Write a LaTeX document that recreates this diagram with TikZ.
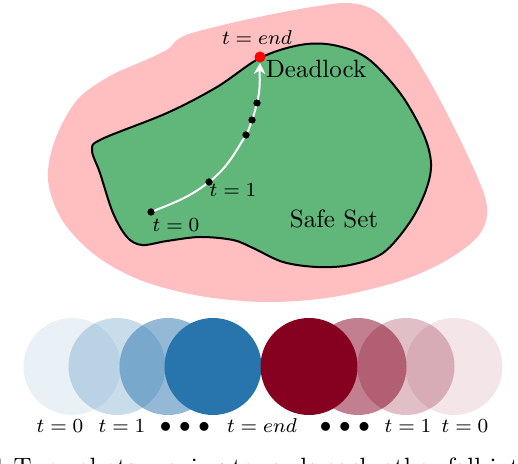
\documentclass[tikz,border=0pt]{standalone}
\usetikzlibrary{arrows.meta}
\definecolor{pinkc}{RGB}{255,190,192}
\definecolor{greenc}{RGB}{97,183,122}
\definecolor{bluec}{RGB}{40,116,173}
\definecolor{redc}{RGB}{134,0,32}
\begin{document}
\begin{tikzpicture}[x=0.4pt,y=0.4pt,
 dotnode/.style={circle,fill=black,inner sep=0pt,minimum size=2.8pt},
 deadnode/.style={circle,fill=red,inner sep=0pt,minimum size=4.4pt},
 tlab/.style={font=\footnotesize,anchor=base,inner sep=0pt},
 dotslab/.style={font=\fontsize{9}{9}\selectfont,anchor=base,inner sep=0pt},
 biglab/.style={anchor=base,inner sep=0pt},
 robot/.style={circle,inner sep=0pt,minimum size=38.8pt,fill=#1,draw=none},
 traj/.style={draw=white,line width=0.8pt,-{Stealth[length=4.4pt,width=4.6pt]}},
 ]
\useasboundingbox (0,0) rectangle (518,-464);
\clip (0,0) rectangle (518,-464);
% unsafe region
\fill[pinkc] plot[smooth cycle,tension=0.55] coordinates {
 (177,-40) (192,-33) (240,-21) (300,-9) (345,-3) (370,-8) (388,-22) (412,-52)
 (440,-100) (473,-167) (487,-207) (479,-235) (447,-260) (400,-281) (333,-297)
 (267,-302) (200,-296) (140,-280) (95,-255) (62,-220) (48,-180) (55,-140)
 (77,-100) (110,-76) (148,-59) (168,-49)};
% safe set
\filldraw[fill=greenc,draw=black,line width=0.8pt] plot[smooth cycle,tension=0.55] coordinates {
 (92,-150) (102,-139) (167,-113) (217,-87) (260,-58) (300,-45) (333,-45)
 (367,-58) (400,-93) (423,-133) (431,-163) (426,-190) (410,-222) (383,-253)
 (350,-265) (317,-267) (283,-262) (253,-248) (233,-240) (200,-237) (167,-241)
 (142,-245) (127,-237) (113,-213) (100,-173)};
% trajectory
\node[dotnode] (p0) at (151,-212) {};
\node[dotnode] (p1) at (209,-182) {};
\node[dotnode] (p2) at (246,-135) {};
\node[dotnode] (p3) at (252,-120) {};
\node[dotnode] (p4) at (257,-103) {};
\node[deadnode] (dl) at (260,-57) {};
\draw[traj] (p0.center) to[out=22,in=-142] (p1.center) to[out=38,in=-122] (p2.center)
  to[out=58,in=-112] (p3.center) to[out=68,in=-106] (p4.center) to[out=76,in=-92] (dl.south);
\node[dotnode] at (p0) {};
\node[dotnode] at (p1) {};
\node[dotnode] at (p2) {};
\node[dotnode] at (p3) {};
\node[dotnode] at (p4) {};
\node[tlab] (l0) at (176,-232) {$t=0$};
\node[tlab] (l1) at (233,-197) {$t=1$};
\node[tlab] (lend) at (257,-45) {$t=end$};
\node[biglab] (dead) at (316,-78) {Deadlock};
\node[biglab] (safe) at (334,-228) {Safe Set};
% robots
\node[robot=bluec,fill opacity=0.1] (b0) at (72,-366.5) {};
\node[robot=bluec,fill opacity=0.25] (b1) at (117,-366.5) {};
\node[robot=bluec,fill opacity=0.5] (b2) at (168,-366.5) {};
\node[robot=bluec] (b3) at (213,-366.5) {};
\node[robot=redc,fill opacity=0.1] (r0) at (454,-366.5) {};
\node[robot=redc,fill opacity=0.25] (r1) at (406,-366.5) {};
\node[robot=redc,fill opacity=0.5] (r2) at (358,-366.5) {};
\node[robot=redc] (r3) at (309,-366.5) {};
\node[tlab] (lb0) at (60,-432) {$t=0$};
\node[tlab] (lb1) at (122,-432) {$t=1$};
\node[dotslab] (ldl) at (185,-432) {$\bullet\mkern2mu\bullet\mkern2mu\bullet$};
\node[tlab] (lbend) at (262,-432) {$t=end$};
\node[dotslab] (ldr) at (345,-432) {$\bullet\mkern2mu\bullet\mkern2mu\bullet$};
\node[tlab] (lr1) at (408,-432) {$t=1$};
\node[tlab] (lr0) at (465,-432) {$t=0$};
% caption (cut off by the page edge, as in the reference)
\node[anchor=base west,inner sep=0pt] (cap) at (13,-475) {Two robots moving towards each other fall into a deadlock.};
\node[anchor=base east,inner sep=0pt] (fig) at (cap.base west) {Fig.~1:\hspace{3.33pt}};
\end{tikzpicture}
\end{document}
